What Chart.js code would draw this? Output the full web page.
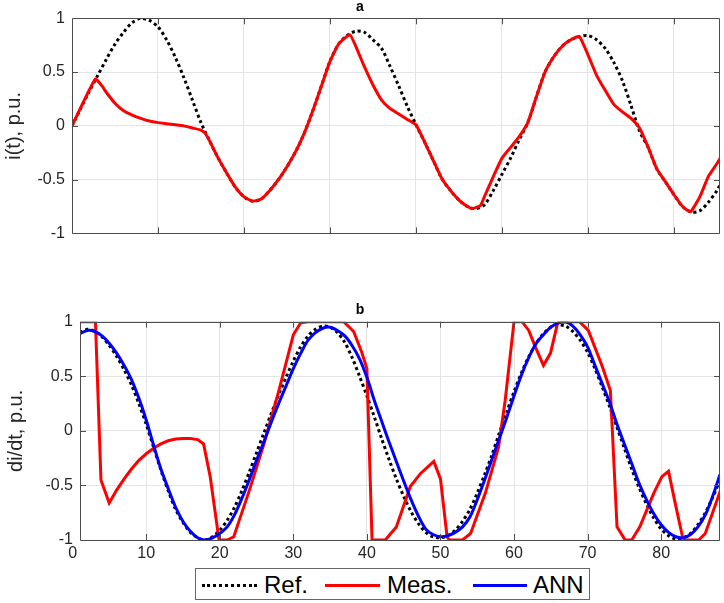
<!DOCTYPE html>
<html>
<head>
<meta charset="utf-8">
<script src="https://cdn.jsdelivr.net/npm/chart.js@4.4.0/dist/chart.umd.min.js"></script>
<style>
  html, body { margin: 0; padding: 0; background: #fff; }
  #page { position: relative; width: 724px; height: 603px; overflow: hidden; font-family: "Liberation Sans", Arial, sans-serif; }
  #chartA { position: absolute; left: 0; top: 0; }
  #chartB { position: absolute; left: 0; top: 290px; }
  .legend-box { position: absolute; left: 195px; top: 568px; width: 393px; height: 30px; border: 1px solid #666; background: #fff; }
  .sample { position: absolute; top: 584px; height: 0; }
  .label { position: absolute; top: 573px; font-size: 24px; line-height: 24px; color: #000; white-space: nowrap; }
</style>
</head>
<body>
<div id="page">
  <canvas id="chartA" width="724" height="250"></canvas>
  <canvas id="chartB" width="724" height="280"></canvas>
  <div class="legend-box"></div>
  <div class="sample" style="left:202px; width:55px; border-top:3px dotted #000;"></div>
  <div class="label" style="left:264px;">Ref.</div>
  <div class="sample" style="left:325px; width:55px; border-top:3px solid #ff0000;"></div>
  <div class="label" style="left:387px;">Meas.</div>
  <div class="sample" style="left:473px; width:54px; border-top:3px solid #0000ff;"></div>
  <div class="label" style="left:533px;">ANN</div>
</div>
<script>
// (a) current i(t)
const topRefX = [0, 1, 2, 3, 4, 5, 6, 7, 8, 9, 10, 11, 12, 13, 14, 15, 16, 17, 18, 19, 20,
  21, 22, 23, 24, 25, 26, 27, 28, 29, 30, 31, 32, 33, 34, 35, 36, 37, 38, 39, 40,
  41, 42, 43, 44, 45, 46, 47, 48, 49, 50, 51, 52, 53, 54, 55, 56, 57, 58, 59, 60,
  61, 62, 63, 64, 65, 66, 67, 68, 69, 70, 71, 72, 73, 74, 75, 76];
const topRefY = [0, 0.16, 0.32, 0.47, 0.62, 0.76, 0.87, 0.96, 1.0, 0.98, 0.92, 0.8, 0.64, 0.45, 0.24, 0.03, -0.14, -0.3, -0.44, -0.57, -0.66,
  -0.7, -0.68, -0.6, -0.5, -0.38, -0.24, -0.07, 0.14, 0.37, 0.6, 0.76, 0.84, 0.88, 0.87, 0.8, 0.72, 0.55, 0.37, 0.18, 0.01,
  -0.15, -0.32, -0.49, -0.6, -0.69, -0.75, -0.77, -0.73, -0.6, -0.45, -0.3, -0.13, 0.03, 0.27, 0.5, 0.64, 0.74, 0.8, 0.83, 0.84,
  0.8, 0.72, 0.59, 0.42, 0.19, -0.05, -0.2, -0.4, -0.52, -0.64, -0.75, -0.8, -0.79, -0.71, -0.6, -0.45];
const topMeasX = [0, 2.7, 3.5, 4, 5, 6, 7, 8, 9, 10, 11, 12, 13, 14, 15, 15.5, 16, 17, 18, 19, 20,
  21, 22, 23, 24, 25, 26, 27, 28, 29, 30, 31, 32.3, 33, 34, 35, 36, 37, 38, 39, 40,
  41, 42, 43, 44, 45, 46, 46.5, 47.5, 48, 49, 50, 51, 52, 53, 54, 55, 56, 57, 58, 59, 60,
  61, 62, 63, 64, 65, 66, 67, 68, 69, 70, 71, 71.9, 73, 74, 75, 76];
const topMeasY = [0, 0.435, 0.37, 0.31, 0.21, 0.14, 0.1, 0.07, 0.045, 0.03, 0.02, 0.01, 0.0, -0.02, -0.04, -0.07, -0.14, -0.3, -0.44, -0.57, -0.66,
  -0.7, -0.68, -0.6, -0.5, -0.38, -0.24, -0.07, 0.14, 0.37, 0.6, 0.76, 0.847, 0.74, 0.55, 0.38, 0.24, 0.16, 0.11, 0.06, 0.01,
  -0.15, -0.32, -0.49, -0.6, -0.69, -0.75, -0.77, -0.74, -0.65, -0.47, -0.3, -0.2, -0.1, 0.03, 0.27, 0.5, 0.64, 0.74, 0.8, 0.83, 0.66,
  0.47, 0.33, 0.2, 0.13, 0.07, -0.02, -0.2, -0.4, -0.52, -0.64, -0.75, -0.8, -0.66, -0.47, -0.35, -0.22];

// (b) derivative di/dt
const timeB = [1, 2, 3, 4, 5, 6, 7, 8, 9, 10, 11, 12, 13, 14, 15, 16, 17, 18, 19, 20,
  21, 22, 23, 24, 25, 26, 27, 28, 29, 30, 31, 32, 33, 34, 35, 36, 37, 38, 39, 40,
  41, 42, 43, 44, 45, 46, 47, 48, 49, 50, 51, 52, 53, 54, 55, 56, 57, 58, 59, 60,
  61, 62, 63, 64, 65, 66, 67, 68, 69, 70, 71, 72, 73, 74, 75, 76, 77, 78, 79, 80,
  81, 82, 83, 84, 85, 86, 87, 88];
const refB = [0.9, 0.93, 0.91, 0.86, 0.78, 0.68, 0.56, 0.42, 0.25, 0.06,
  -0.15, -0.36, -0.55, -0.72, -0.84, -0.93, -0.98, -1.0, -0.97, -0.91,
  -0.82, -0.7, -0.55, -0.38, -0.2, -0.02, 0.16, 0.33, 0.49, 0.64,
  0.77, 0.87, 0.93, 0.96, 0.95, 0.9, 0.81, 0.67, 0.5, 0.32,
  0.13, -0.07, -0.26, -0.44, -0.6, -0.74, -0.85, -0.93, -0.97, -0.98,
  -0.96, -0.91, -0.83, -0.72, -0.57, -0.4, -0.22, -0.02, 0.17, 0.36,
  0.53, 0.68, 0.8, 0.89, 0.95, 0.97, 0.96, 0.91, 0.83, 0.72,
  0.57, 0.4, 0.22, 0.03, -0.16, -0.35, -0.52, -0.67, -0.8, -0.9,
  -0.96, -0.99, -0.98, -0.94, -0.86, -0.75, -0.61, -0.45];
const annB = [0.89, 0.92, 0.91, 0.87, 0.8, 0.71, 0.6, 0.47, 0.3, 0.1,
  -0.13, -0.35, -0.53, -0.7, -0.83, -0.92, -0.98, -1.0, -0.98, -0.94,
  -0.88, -0.77, -0.62, -0.45, -0.27, -0.1, 0.08, 0.25, 0.41, 0.57,
  0.71, 0.83, 0.9, 0.94, 0.95, 0.92, 0.87, 0.78, 0.66, 0.49,
  0.28, 0.09, -0.1, -0.28, -0.46, -0.63, -0.78, -0.9, -0.95, -0.97,
  -0.96, -0.93, -0.88, -0.79, -0.63, -0.45, -0.26, -0.07, 0.12, 0.32,
  0.51, 0.67, 0.8, 0.88, 0.95, 0.99, 1.0, 0.96, 0.88, 0.77,
  0.6, 0.43, 0.26, 0.06, -0.12, -0.3, -0.48, -0.63, -0.76, -0.86,
  -0.93, -0.97, -0.98, -0.95, -0.88, -0.77, -0.6, -0.4];
const measBX = [1, 3.1, 3.85, 4.97, 6, 7, 8, 9, 10, 11, 12, 13, 14, 15, 16, 17, 17.8, 18.7, 19.9, 21,
  21.9, 24, 26, 28, 30, 31, 32, 36.85, 38.2, 39.3, 40, 40.7, 42.5, 44, 45.9, 47.3, 49.1, 50, 50.9, 51.2,
  53, 54.1, 56.1, 57.9, 58.8, 60, 61.1, 62, 62.9, 64, 64.95, 65.9, 66.2, 68.9, 70.1, 72, 73.1, 74, 75.1, 76,
  77.1, 79, 80.1, 81, 81.9, 82.9, 83.2, 85.1, 86, 88.1];
const measBY = [1, 1, -0.45, -0.66, -0.54, -0.44, -0.35, -0.27, -0.21, -0.16, -0.12, -0.09, -0.075, -0.07, -0.07, -0.08, -0.12, -0.42, -1, -1,
  -0.97, -0.55, -0.12, 0.36, 0.88, 0.99, 1, 1, 0.91, 0.72, 0.57, -1, -1, -0.88, -0.51, -0.39, -0.28, -0.44, -0.97, -1,
  -1, -0.94, -0.57, -0.15, 0.28, 1, 1, 0.92, 0.77, 0.6, 0.71, 0.98, 1, 1, 0.92, 0.59, 0.37, -0.88, -1, -1,
  -0.88, -0.57, -0.42, -0.37, -0.66, -0.97, -1, -1, -0.94, -0.54];

const xTicksA = [10, 20, 30, 40, 50, 60, 70];
const xTicksB = [0, 10, 20, 30, 40, 50, 60, 70, 80];
const yTicks = [-1, -0.5, 0, 0.5, 1];

const FONT = '"Liberation Sans", Arial, sans-serif';
const GRID = '#e4e4e4';
const AXIS = '#4d4d4d';

const pts = (xs, ys) => xs.map((x, i) => ({ x: x, y: ys[i] }));

// matlab style box with inward ticks
const framePlugin = {
  id: 'frame',
  afterDatasetsDraw(chart) {
    const { ctx, chartArea: a, scales: { x, y } } = chart;
    ctx.save();
    ctx.strokeStyle = AXIS;
    ctx.lineWidth = 1;
    ctx.beginPath();
    x.ticks.forEach(t => {
      if (t.value <= x.min || t.value >= x.max) return;
      const px = Math.round(x.getPixelForValue(t.value)) + 0.5;
      ctx.moveTo(px, a.bottom); ctx.lineTo(px, a.bottom - 6);
      ctx.moveTo(px, a.top); ctx.lineTo(px, a.top + 6);
    });
    y.ticks.forEach(t => {
      if (t.value <= y.min || t.value >= y.max) return;
      const py = Math.round(y.getPixelForValue(t.value)) + 0.5;
      ctx.moveTo(a.left, py); ctx.lineTo(a.left + 6, py);
      ctx.moveTo(a.right, py); ctx.lineTo(a.right - 6, py);
    });
    ctx.rect(Math.round(a.left) + 0.5, Math.round(a.top) + 0.5,
      Math.round(a.right - a.left) - 1, Math.round(a.bottom - a.top));
    ctx.stroke();
    ctx.restore();
  }
};

function yScale(title, titlePad, width) {
  return {
    type: 'linear',
    min: -1,
    max: 1,
    afterBuildTicks: s => { s.ticks = yTicks.map(v => ({ value: v })); },
    afterFit: s => { s.width = width; },
    border: { display: false },
    grid: { color: GRID, drawTicks: false },
    ticks: { color: '#262626', font: { family: FONT, size: 16 }, padding: 7, callback: v => String(v) },
    title: {
      display: true, text: title, color: '#262626',
      font: { family: FONT, size: 20 }, padding: { top: titlePad, bottom: 0 }
    }
  };
}

function titleOpts(text, top, bottom) {
  return {
    display: true, text: text, color: '#000',
    font: { family: FONT, size: 14, weight: 'bold', lineHeight: 1 },
    padding: { top: top, bottom: bottom }
  };
}

new Chart(document.getElementById('chartA'), {
  type: 'line',
  data: {
    datasets: [
      { label: 'Ref.', data: pts(topRefX, topRefY), borderColor: '#000', borderWidth: 3, borderDash: [3, 3],
        pointRadius: 0, tension: 0.3, order: 2 },
      { label: 'Meas.', data: pts(topMeasX, topMeasY), borderColor: '#ff0000', borderWidth: 3,
        pointRadius: 0, tension: 0.15, order: 1 }
    ]
  },
  options: {
    responsive: false,
    animation: false,
    layout: { padding: { left: 0, right: 4, top: 0, bottom: 0 } },
    plugins: { legend: { display: false }, tooltip: { enabled: false }, title: titleOpts('a', 0, 4.3) },
    scales: {
      x: {
        type: 'linear', min: 0, max: 75.35,
        afterBuildTicks: s => { s.ticks = xTicksA.map(v => ({ value: v })); },
        afterFit: s => { s.height = 13.3; },
        border: { display: false },
        grid: { color: GRID, drawTicks: false },
        ticks: { display: false }
      },
      y: yScale('i(t), p.u.', 2, 72)
    }
  },
  plugins: [framePlugin]
});

new Chart(document.getElementById('chartB'), {
  type: 'line',
  data: {
    datasets: [
      { label: 'Ref.', data: pts(timeB, refB), borderColor: '#000', borderWidth: 3, borderDash: [3, 3],
        pointRadius: 0, tension: 0.3, order: 3 },
      { label: 'Meas.', data: pts(measBX, measBY), borderColor: '#ff0000', borderWidth: 3,
        pointRadius: 0, tension: 0, order: 2 },
      { label: 'ANN', data: pts(timeB, annB), borderColor: '#0000ff', borderWidth: 3,
        pointRadius: 0, tension: 0.3, order: 1 }
    ]
  },
  options: {
    responsive: false,
    animation: false,
    layout: { padding: { left: 0, right: 4, top: 0, bottom: 0 } },
    plugins: { legend: { display: false }, tooltip: { enabled: false }, title: titleOpts('b', 13, 4.7) },
    scales: {
      x: {
        type: 'linear', min: 1, max: 88,
        afterBuildTicks: s => { s.ticks = xTicksB.map(v => ({ value: v })); },
        afterFit: s => { s.height = 30; },
        border: { display: false },
        grid: { color: c => (c.tick && c.tick.value < 1 ? 'rgba(0,0,0,0)' : GRID), drawTicks: false },
        ticks: { color: '#262626', font: { family: FONT, size: 16 }, padding: 4, autoSkip: false, maxRotation: 0 }
      },
      y: yScale('di/dt, p.u.', 4, 80)
    }
  },
  plugins: [framePlugin]
});
</script>
</body>
</html>
